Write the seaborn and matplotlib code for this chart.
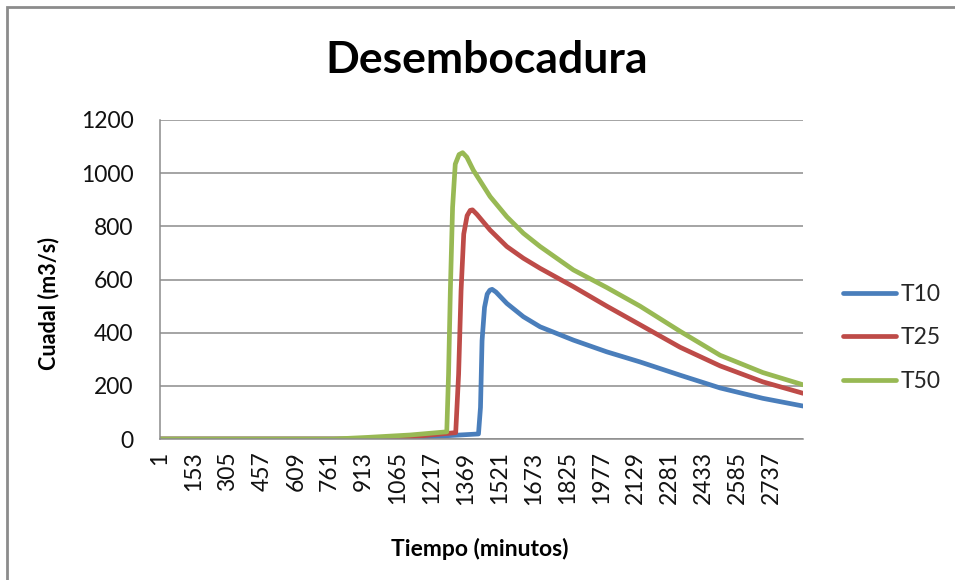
import pandas as pd
import seaborn as sns
import matplotlib.pyplot as plt
from matplotlib.patches import Rectangle

# values (minute, discharge m3/s)
t10_min = [1, 970, 1150, 1300, 1427, 1436, 1443, 1454, 1466, 1478, 1488, 1505, 1554, 1628, 1703, 1852, 2001, 2150, 2330, 2509, 2700, 2880]
t10_q = [0, 0, 7, 13, 19, 119, 370, 495, 545, 560, 563, 553, 510, 460, 422, 372, 328, 290, 240, 192, 153, 124]

t25_min = [1, 930, 1120, 1325, 1338, 1349, 1361, 1376, 1390, 1400, 1420, 1479, 1554, 1628, 1703, 1852, 2001, 2150, 2330, 2509, 2700, 2880]
t25_q = [0, 0, 8, 24, 244, 558, 771, 840, 860, 862, 845, 786, 724, 680, 642, 573, 500, 430, 345, 275, 215, 172]

t50_min = [1, 780, 930, 1120, 1285, 1293, 1301, 1311, 1323, 1340, 1356, 1375, 1404, 1479, 1554, 1628, 1703, 1852, 2001, 2150, 2330, 2509, 2700, 2880]
t50_q = [0, 0, 6, 15, 27, 244, 558, 871, 1034, 1070, 1077, 1060, 1011, 912, 836, 774, 724, 636, 570, 500, 405, 315, 250, 204]

series = ["T10", "T25", "T50"]
colors = ["#4A7EBB", "#BE4B48", "#98B954"]
x_ticks = list(range(1, 2738, 152))
y_ticks = [0, 200, 400, 600, 800, 1000, 1200]


def build_frame():
    frames = []
    for name, mins, q in zip(series, [t10_min, t25_min, t50_min], [t10_q, t25_q, t50_q]):
        frames.append(pd.DataFrame({"Tiempo": mins, "Cuadal": q, "serie": name}))
    return pd.concat(frames, ignore_index=True)


def main():
    sns.set_theme(style="white")
    plt.rcParams["font.family"] = ["Lato", "DejaVu Sans"]

    data = build_frame()
    fig = plt.figure(figsize=(9.55, 5.8), dpi=100)
    ax = fig.add_axes([160 / 955, 1 - 439 / 580, 643 / 955, 319 / 580])

    sns.lineplot(data, x="Tiempo", y="Cuadal", hue="serie", palette=colors,
                 estimator=None, linewidth=3.4, ax=ax, legend=True)
    for line in ax.get_lines():
        line.set_solid_joinstyle("round")
        line.set_solid_capstyle("round")

    ax.set_xlim(1, 2880)
    ax.set_ylim(0, 1200)
    ax.set_xticks(x_ticks)
    ax.set_xticklabels([str(v) for v in x_ticks], rotation=90, fontsize=16.5, color="#111111")
    ax.set_yticks(y_ticks)
    ax.set_yticklabels([str(v) for v in y_ticks], fontsize=16.5, color="#111111")
    ax.tick_params(axis="both", length=0)
    ax.tick_params(axis="y", pad=19)
    ax.tick_params(axis="x", pad=9)
    ax.grid(axis="y", color="#8c8c8c", linewidth=1.1)
    ax.grid(axis="x", visible=False)
    for s in ["top", "right"]:
        ax.spines[s].set_visible(False)
    for s in ["left", "bottom"]:
        ax.spines[s].set_color("#8c8c8c")
        ax.spines[s].set_linewidth(1.1)

    ax.set_xlabel("Tiempo (minutos)", fontsize=16.5, fontweight="bold", color="black")
    ax.set_ylabel("Cuadal (m3/s)", fontsize=15.5, fontweight="bold", color="black")
    ax.xaxis.set_label_coords(0.498, -0.31)
    ax.yaxis.set_label_coords(-0.156, 0.426)

    fig.suptitle("Desembocadura", x=487 / 955, y=1 - 60 / 580, va="center",
                 fontsize=32, fontweight="bold", color="black")

    ax.legend_.remove()
    handles, labels = ax.get_legend_handles_labels()
    fig.legend(handles, labels, loc="center left", bbox_to_anchor=(843 / 955, 1 - 338 / 580),
               frameon=False, fontsize=16.5, handlelength=2.3, handletextpad=0.2,
               labelspacing=1.0, borderpad=0, borderaxespad=0)

    # outer chart border (only top and left edges are inside the picture)
    fig.patches.append(Rectangle((7 / 955, -0.1), 1.2, 1.1 - 7 / 580, transform=fig.transFigure,
                                 fill=False, edgecolor="#8c8c8c", linewidth=2))

    fig.savefig("out.png", dpi=100)
    plt.close()


if __name__ == "__main__":
    main()
